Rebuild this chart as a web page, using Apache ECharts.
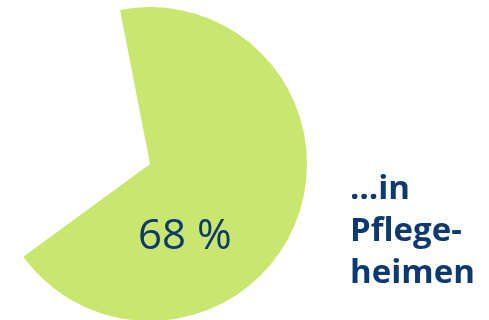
<!DOCTYPE html>
<html>
<head>
<meta charset="utf-8">
<script src="https://cdn.jsdelivr.net/npm/echarts@6/dist/echarts.min.js"></script>
<style>html,body{margin:0;padding:0;background:#fff}#c{width:489px;height:320px}</style>
</head>
<body>
<div id="c"></div>
<script>
const categories = ['in Pflegeheimen', 'andere'];
const values = [68, 32];
const valueLabel = '68 %';
const sideText = '…in\nPflege-\nheimen';

const chart = echarts.init(document.getElementById('c'), null, {renderer: 'canvas'});
chart.setOption({
  animation: false,
  backgroundColor: '#ffffff',
  title: [{
    text: valueLabel,
    left: 133, top: 211,
    textStyle: {fontFamily: 'Open Sans', fontWeight: 'normal', fontSize: 42, color: '#0d3a6e'}
  }, {
    text: sideText,
    left: 345, top: 164,
    textStyle: {fontFamily: 'Open Sans', fontWeight: 'bold', fontSize: 33, lineHeight: 42, color: '#0d3a6e'}
  }],
  series: [{
    type: 'pie',
    center: [150, 164],
    radius: 157,
    startAngle: 101,
    clockwise: true,
    silent: true,
    label: {show: false},
    labelLine: {show: false},
    data: categories.map((c, i) => ({
      name: c, value: values[i],
      itemStyle: {color: i === 0 ? '#c9e66f' : 'rgba(0,0,0,0)', borderWidth: 0}
    }))
  }]
});
</script>
</body>
</html>
